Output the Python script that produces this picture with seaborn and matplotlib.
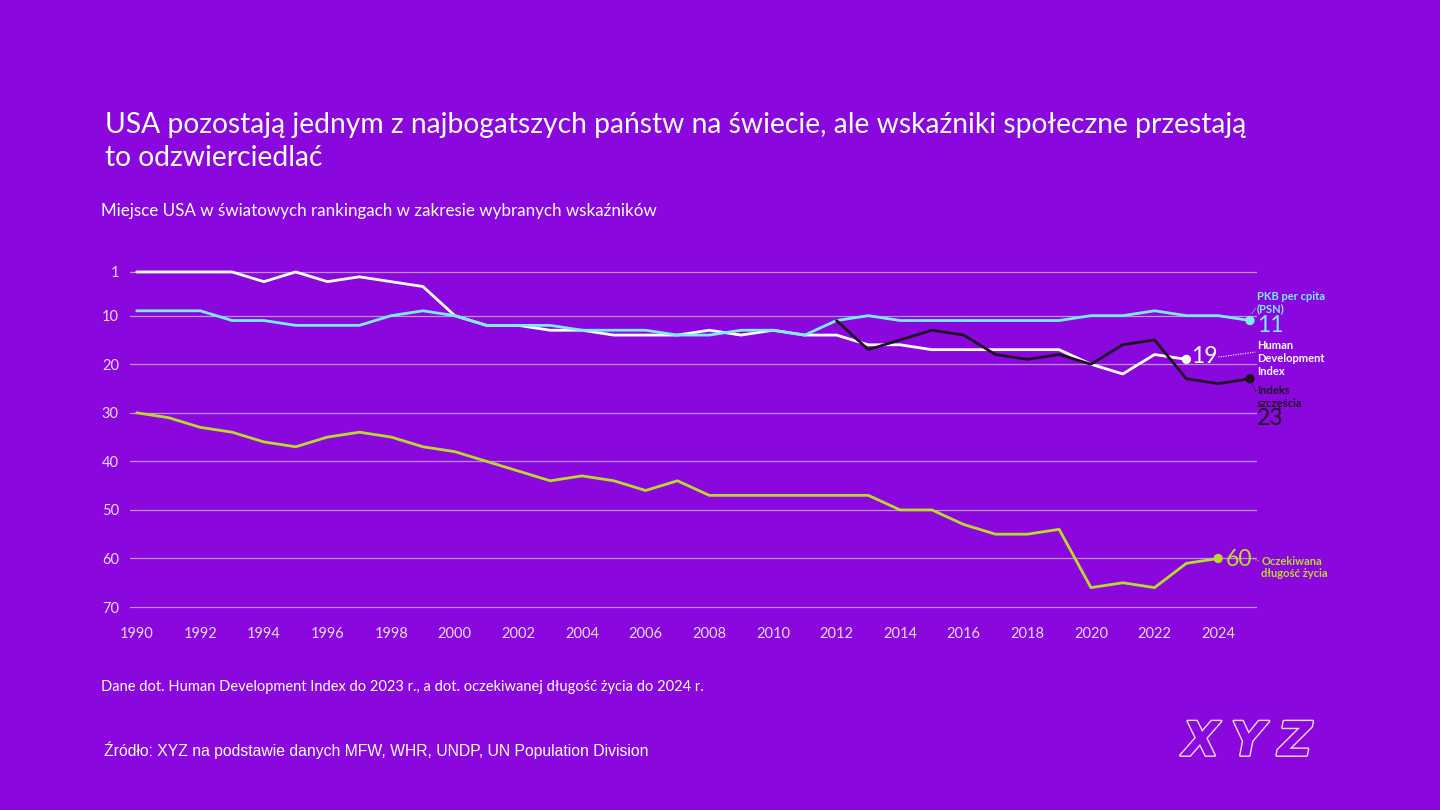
import matplotlib
matplotlib.use("Agg")
import matplotlib.pyplot as plt
import seaborn as sns
import pandas as pd
from matplotlib import patheffects as pe

# ---------------- data ----------------
gdp_years = list(range(1990, 2026))
gdp_rank = [9, 9, 9, 11, 11, 12, 12, 12, 10, 9,
            10, 12, 12, 12, 13, 13, 13, 14, 14, 13,
            13, 14, 11, 10, 11, 11, 11, 11, 11, 11,
            10, 10, 9, 10, 10, 11]

hdi_years = list(range(1990, 2024))
hdi_rank = [1, 1, 1, 1, 3, 1, 3, 2, 3, 4,
            10, 12, 12, 13, 13, 14, 14, 14, 13, 14,
            13, 14, 14, 16, 16, 17, 17, 17, 17, 17,
            20, 22, 18, 19]

happy_years = list(range(2012, 2026))
happy_rank = [11, 17, 15, 13, 14, 18, 19, 18, 20, 16, 15, 23, 24, 23]

life_years = list(range(1990, 2025))
life_rank = [30, 31, 33, 34, 36, 37, 35, 34, 35, 37,
             38, 40, 42, 44, 43, 44, 46, 44, 47, 47,
             47, 47, 47, 47, 50, 50, 53, 55, 55, 54,
             66, 65, 66, 61, 60]

y_ticks = [1, 10, 20, 30, 40, 50, 60, 70]
x_ticks = list(range(1990, 2025, 2))

series_names = ["Human Development Index", "PKB per cpita (PSN)", "Indeks szczęścia", "Oczekiwana długość życia"]

title_text = ("USA pozostają jednym z najbogatszych państw na świecie, ale wskaźniki społeczne przestają\n"
              "to odzwierciedlać")
subtitle_text = "Miejsce USA w światowych rankingach w zakresie wybranych wskaźników"
note_text = "Dane dot. Human Development Index do 2023 r., a dot. oczekiwanej długość życia do 2024 r."
source_text = "Źródło: XYZ na podstawie danych MFW, WHR, UNDP, UN Population Division"
logo_letters = ["X", "Y", "Z"]

# ---------------- style ----------------
BG = "#8a08dd"
C_GDP = "#79ecf7"
C_HDI = "#ffffff"
C_HAP = "#1c1222"
C_LIFE = "#b9d92c"
GRID = "#bb8ee8"
TICK = "#eadcf8"
PX_X = 31.81   # pixels per year
PX_Y = 4.855   # pixels per rank

sns.set_style("white", {"axes.facecolor": BG, "figure.facecolor": BG})
plt.rcParams["font.family"] = ["Lato", "DejaVu Sans"]

df = pd.concat([
    pd.DataFrame({"year": hdi_years, "rank": hdi_rank, "series": series_names[0]}),
    pd.DataFrame({"year": gdp_years, "rank": gdp_rank, "series": series_names[1]}),
    pd.DataFrame({"year": happy_years, "rank": happy_rank, "series": series_names[2]}),
    pd.DataFrame({"year": life_years, "rank": life_rank, "series": series_names[3]}),
])
colors = {series_names[0]: C_HDI, series_names[1]: C_GDP,
          series_names[2]: C_HAP, series_names[3]: C_LIFE}

fig = plt.figure(figsize=(14.4, 8.1), dpi=100, facecolor=BG)
ax = fig.add_axes([130 / 1440, 1 - 611.9 / 810, 1127 / 1440, (611.9 - 267.1) / 810])
ax.set_facecolor(BG)

for i, name in enumerate(series_names):
    sub = df[df["series"] == name]
    sns.lineplot(data=sub, x="year", y="rank", color=colors[name], linewidth=2.0,
                 ax=ax, legend=False, zorder=3 + i)

ax.set_xlim(1989.79, 2025.22)
ax.set_ylim(71, 0)
ax.set_yticks(y_ticks)
ax.set_yticklabels([str(t) for t in y_ticks])
ax.set_xticks(x_ticks)
ax.set_xticklabels([str(t) for t in x_ticks])
ax.set_xlabel("")
ax.set_ylabel("")
ax.grid(False)
for t in y_ticks:
    ax.axhline(t, color=GRID, linewidth=0.9, zorder=1)
for s in ax.spines.values():
    s.set_visible(False)
ax.tick_params(axis="both", length=0, colors=TICK, labelsize=10.5)
ax.tick_params(axis="y", pad=8)
ax.tick_params(axis="x", pad=11)

# ---------------- end labels ----------------
def dot(x, y, c):
    ax.scatter([x], [y], s=45, color=c, zorder=10, clip_on=False, edgecolors="none")

def leader(x, y, dx0, dy0, dx1, dy1, c):
    # offsets in pixels (dy positive = up on screen)
    ax.plot([x + dx0 / PX_X, x + dx1 / PX_X], [y - dy0 / PX_Y, y - dy1 / PX_Y],
            linestyle=(0, (1, 1.2)), color=c, lw=0.8, zorder=9, clip_on=False)

SMALL = 8
LS = 1.2
BIG = 16.5

# GDP
gx, gy = gdp_years[-1], gdp_rank[-1]
dot(gx, gy, C_GDP)
ax.annotate(str(gy), (gx, gy), xytext=(7, -5), textcoords="offset pixels",
            color=C_GDP, fontsize=BIG, va="center", ha="left",
            annotation_clip=False)
ax.annotate("PKB per cpita\n(PSN)", (gx, gy), xytext=(7, 6), textcoords="offset pixels",
            color=C_GDP, fontsize=SMALL, fontweight="bold", va="bottom", ha="left",
            linespacing=LS, annotation_clip=False)
leader(gx, gy, 2, 7, 6, 13, C_GDP)

# HDI
hx, hy = hdi_years[-1], hdi_rank[-1]
dot(hx, hy, C_HDI)
ax.annotate(str(hy), (hx, hy), xytext=(5, 3), textcoords="offset pixels",
            color=C_HDI, fontsize=BIG, va="center", ha="left",
            annotation_clip=False)
ax.annotate("Human\nDevelopment\nIndex", (hx, hy), xytext=(71, 1), textcoords="offset pixels",
            color=C_HDI, fontsize=SMALL, fontweight="bold", va="center", ha="left",
            linespacing=LS, annotation_clip=False)
leader(hx, hy, 32, 2.3, 69, 7.3, C_HDI)

# Happiness
px, py = happy_years[-1], happy_rank[-1]
dot(px, py, C_HAP)
ax.annotate("Indeks\nszczęścia", (px, py), xytext=(7, -18), textcoords="offset pixels",
            color=C_HAP, fontsize=SMALL, fontweight="bold", va="center", ha="left",
            linespacing=LS, annotation_clip=False)
ax.annotate(str(py), (px, py), xytext=(7, -40), textcoords="offset pixels",
            color=C_HAP, fontsize=BIG, va="center", ha="left",
            annotation_clip=False)
leader(px, py, 2, -5, 6, -13, C_HAP)

# Life expectancy
lx, ly = life_years[-1], life_rank[-1]
dot(lx, ly, C_LIFE)
ax.annotate(str(ly), (lx, ly), xytext=(8, -1), textcoords="offset pixels",
            color=C_LIFE, fontsize=BIG, va="center", ha="left",
            annotation_clip=False)
ax.annotate("Oczekiwana\ndługość życia", (lx, ly), xytext=(43, -9), textcoords="offset pixels",
            color=C_LIFE, fontsize=SMALL, fontweight="bold", va="center", ha="left",
            linespacing=LS, annotation_clip=False)
leader(lx, ly, 35, 0, 41, -3, C_LIFE)

# ---------------- texts ----------------
fig.text(105 / 1440, 1 - 112 / 810, title_text, color="white", fontsize=20.3,
         va="top", ha="left", linespacing=1.34)
fig.text(101 / 1440, 1 - 211 / 810, subtitle_text, color="white", fontsize=12.25,
         va="center", ha="left")
fig.text(101 / 1440, 1 - 687 / 810, note_text, color="white", fontsize=10.5,
         va="center", ha="left")
fig.text(104 / 1440, 1 - 750 / 810, source_text, color="white", fontsize=11.3,
         va="center", ha="left", family=["Liberation Sans", "DejaVu Sans"])

for i, letter in enumerate(logo_letters):
    t = fig.text((1201 + 47 * i) / 1440, 1 - 743 / 810, letter, color=BG, fontsize=34,
                 fontweight="bold", fontstyle="italic", va="center", ha="center",
                 family=["DejaVu Sans"])
    t.set_path_effects([pe.Stroke(linewidth=2.0, foreground="#f0e0ff"), pe.Normal()])

fig.savefig("out.png", dpi=100, facecolor=BG)
